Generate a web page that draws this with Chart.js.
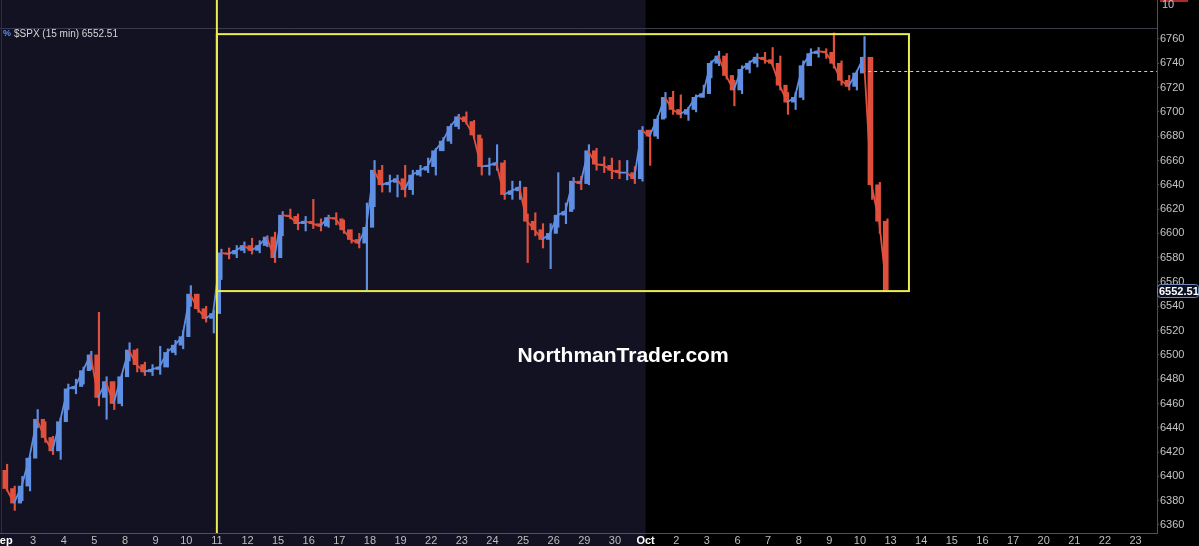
<!DOCTYPE html>
<html>
<head>
<meta charset="utf-8">
<script src="https://cdn.jsdelivr.net/npm/chart.js@4.4.1/dist/chart.umd.min.js"></script>
<style>
  html, body { margin: 0; padding: 0; background: #000; }
  #wrap { width: 1199px; height: 546px; position: relative; }
</style>
</head>
<body>
<div id="wrap"><canvas id="spx"></canvas></div>
<script>
// trading day labels on the x axis (Sep 2 .. Oct 23)
const dayLabels = ["Sep","3","4","5","8","9","10","11","12","15","16","17","18","19","22","23","24","25","26","29","30",
                   "Oct","2","3","6","7","8","9","10","13","14","15","16","17","20","21","22","23"];
const monthLabels = ["Sep", "Oct"];
const yTicks = [6360,6380,6400,6420,6440,6460,6480,6500,6520,6540,6560,6580,6600,6620,6640,6660,6680,6700,6720,6740,6760];

// 4 slots per trading day
const slotsPerDay = 4;
const firstOpen = 6405;
const closes = [
  6390, 6378, 6392, 6415,   // Sep 2
  6447, 6432, 6421, 6445,   // Sep 3
  6472, 6474, 6487, 6500,   // Sep 4
  6465, 6478, 6460, 6482,   // Sep 5
  6504, 6492, 6486, 6488,   // Sep 8
  6490, 6502, 6508, 6515,   // Sep 9
  6550, 6538, 6530, 6534,   // Sep 10
  6584, 6583, 6586, 6590,   // Sep 11
  6586, 6590, 6597, 6580,   // Sep 12
  6615, 6614, 6608, 6610,   // Sep 15
  6608, 6606, 6613, 6612,   // Sep 16
  6603, 6595, 6592, 6605,   // Sep 17
  6652, 6640, 6642, 6645,   // Sep 18
  6636, 6648, 6652, 6655,   // Sep 19
  6668, 6676, 6688, 6696,   // Sep 22
  6692, 6681, 6655, 6656,   // Sep 23
  6658, 6632, 6635, 6638,   // Sep 24
  6610, 6603, 6595, 6600,   // Sep 25
  6615, 6618, 6643, 6641,   // Sep 26
  6668, 6657, 6656, 6652,   // Sep 29
  6650, 6650, 6645, 6685,   // Sep 30
  6680, 6694, 6712, 6702,   // Oct 1
  6698, 6702, 6712, 6715,   // Oct 2
  6740, 6746, 6730, 6718,   // Oct 3
  6735, 6740, 6745, 6743,   // Oct 6
  6740, 6722, 6708, 6712,   // Oct 7
  6738, 6748, 6750, 6749,   // Oct 8
  6740, 6726, 6721, 6732,   // Oct 9
  6745, 6640, 6610, 6552.51 // Oct 10
];
const highs = [
  6410, 6392, 6400, 6417,
  6455, 6445, 6433, 6448,
  6476, 6480, 6490, 6503,
  6535, 6482, 6478, 6484,
  6510, 6505, 6494, 6492,
  6507, 6505, 6512, 6520,
  6557, 6550, 6540, 6537,
  6587, 6588, 6590, 6593,
  6596, 6594, 6598, 6601,
  6618, 6620, 6616, 6614,
  6628, 6612, 6615, 6617,
  6611, 6603, 6600, 6625,
  6660, 6656, 6648, 6648,
  6656, 6652, 6656, 6662,
  6670, 6679, 6690, 6698,
  6700, 6693, 6678, 6662,
  6673, 6660, 6643, 6643,
  6616, 6617, 6608, 6608,
  6650, 6625, 6646, 6647,
  6673, 6670, 6663, 6662,
  6660, 6660, 6655, 6688,
  6685, 6697, 6716, 6717,
  6714, 6704, 6714, 6722,
  6742, 6750, 6748, 6726,
  6738, 6742, 6748, 6749,
  6753, 6746, 6716, 6716,
  6742, 6752, 6753, 6752,
  6765, 6742, 6730, 6734,
  6762, 6745, 6642, 6612
];
const lows = [
  6388, 6372, 6380, 6388,
  6440, 6428, 6418, 6414,
  6455, 6468, 6476, 6488,
  6458, 6447, 6455, 6458,
  6495, 6486, 6483, 6483,
  6484, 6490, 6500, 6505,
  6540, 6535, 6527, 6518,
  6562, 6579, 6580, 6584,
  6583, 6584, 6589, 6576,
  6598, 6612, 6603, 6602,
  6604, 6602, 6605, 6607,
  6600, 6592, 6588, 6553,
  6622, 6634, 6634, 6630,
  6630, 6632, 6647, 6650,
  6648, 6668, 6674, 6686,
  6690, 6678, 6648, 6648,
  6652, 6628, 6628, 6628,
  6576, 6598, 6588, 6571,
  6605, 6608, 6620, 6636,
  6640, 6652, 6650, 6645,
  6645, 6644, 6641, 6643,
  6656, 6678, 6695, 6698,
  6695, 6693, 6700, 6712,
  6728, 6738, 6727, 6705,
  6715, 6732, 6737, 6740,
  6738, 6718, 6698, 6702,
  6710, 6738, 6745, 6744,
  6736, 6722, 6718, 6718,
  6733, 6628, 6600, 6552
];

// overlay levels (data units)
const lastPrice = 6552.51;
const boxStartDay = 7;      // Sep 11
const boxEndDay = 29.6;
const boxHigh = 6764;
const boxLow = 6552.51;
const refLevel = 6734;
const refStartDay = 28.27;
const octStartDay = 21;

const xMin = -0.082, xMax = 37.70;
const yMin = 6353.4, yMax = 6769.05;

const BLUE = '#5f8fe2';
const RED = '#e0503c';

Chart.defaults.font.family = "'Liberation Sans', Arial, sans-serif";

const xPos = closes.map((_, i) => Math.floor(i / slotsPerDay) + ((i % slotsPerDay) + 0.5) / slotsPerDay);
const opens = closes.map((c, i) => i === 0 ? firstOpen : closes[i - 1]);
const barColors = closes.map((c, i) => c >= opens[i] ? BLUE : RED);

function isMonth(c) {
  return !!(c && c.tick) && monthLabels.includes(dayLabels[c.tick.value]);
}

// background bands + top panel
const bgPlugin = {
  id: 'bg',
  beforeDraw(chart) {
    const { ctx, chartArea, scales: { x } } = chart;
    ctx.save();
    ctx.fillStyle = '#000';
    ctx.fillRect(0, 0, chart.width, chart.height);
    ctx.fillStyle = '#131222';
    ctx.fillRect(0, 0, x.getPixelForValue(octStartDay), chart.height);
    // panel separator
    ctx.strokeStyle = '#3a3a4c';
    ctx.lineWidth = 1;
    ctx.beginPath();
    ctx.moveTo(0, chartArea.top + 0.5);
    ctx.lineTo(chartArea.right, chartArea.top + 0.5);
    ctx.stroke();
    ctx.strokeStyle = '#24304a';
    ctx.beginPath();
    ctx.moveTo(1.5, 0);
    ctx.lineTo(1.5, chartArea.bottom);
    ctx.stroke();
    // axis line through the top panel
    ctx.strokeStyle = '#4a5068';
    ctx.beginPath();
    ctx.moveTo(chartArea.right + 0.5, 0);
    ctx.lineTo(chartArea.right + 0.5, chartArea.top);
    ctx.stroke();
    ctx.restore();
  }
};

const overlayPlugin = {
  id: 'overlay',
  afterDatasetsDraw(chart) {
    const { ctx, chartArea, scales: { x, y } } = chart;
    ctx.save();
    // dashed reference level
    ctx.strokeStyle = '#d0d0d0';
    ctx.lineWidth = 1;
    ctx.setLineDash([3, 3]);
    const ry = Math.round(y.getPixelForValue(refLevel)) + 0.5;
    ctx.beginPath();
    ctx.moveTo(x.getPixelForValue(refStartDay), ry);
    ctx.lineTo(chartArea.right, ry);
    ctx.stroke();
    ctx.setLineDash([]);
    // yellow range box
    const bx0 = x.getPixelForValue(boxStartDay);
    const bx1 = x.getPixelForValue(boxEndDay);
    const by0 = y.getPixelForValue(boxHigh);
    const by1 = y.getPixelForValue(boxLow);
    ctx.strokeStyle = '#ecec4e';
    ctx.lineWidth = 2;
    ctx.strokeRect(bx0, by0, bx1 - bx0, by1 - by0);
    ctx.beginPath();
    ctx.moveTo(bx0, 0);
    ctx.lineTo(bx0, chartArea.bottom);
    ctx.stroke();
    ctx.restore();
  },
  afterDraw(chart) {
    const { ctx, chartArea, scales: { y } } = chart;
    ctx.save();
    // title
    ctx.textBaseline = 'middle';
    ctx.font = "bold 9px 'Liberation Sans', Arial, sans-serif";
    ctx.fillStyle = '#5a8ee8';
    ctx.fillText('%', 3, chartArea.top + 6);
    ctx.font = "10px 'Liberation Sans', Arial, sans-serif";
    ctx.fillStyle = '#d6d6d6';
    ctx.fillText('$SPX (15 min) ' + lastPrice.toFixed(2), 14, chartArea.top + 6);
    // top panel value
    ctx.fillStyle = '#b02828';
    ctx.fillRect(chartArea.right + 3, 0, 28, 2);
    ctx.fillStyle = '#c4c4c4';
    ctx.font = "11px 'Liberation Sans', Arial, sans-serif";
    ctx.fillText('10', chartArea.right + 5, 5);
    // last price tag
    const py = Math.round(y.getPixelForValue(lastPrice));
    ctx.fillStyle = '#0b1020';
    ctx.strokeStyle = '#7088b8';
    ctx.lineWidth = 1;
    ctx.beginPath();
    ctx.roundRect(chartArea.right + 0.5, py - 6.5, 41, 13, 3);
    ctx.fill();
    ctx.stroke();
    ctx.fillStyle = '#ffffff';
    ctx.font = "bold 11px 'Liberation Sans', Arial, sans-serif";
    ctx.fillText(lastPrice.toFixed(2), chartArea.right + 2, py + 0.5);
    // watermark
    ctx.font = "bold 21px 'Liberation Sans', Arial, sans-serif";
    ctx.textAlign = 'center';
    ctx.fillStyle = '#ffffff';
    ctx.fillText('NorthmanTrader.com', 623, 356);
    ctx.restore();
  }
};

new Chart(document.getElementById('spx'), {
  type: 'line',
  data: {
    datasets: [
      {
        // high-low wicks
        type: 'bar',
        data: xPos.map((xv, i) => ({ x: xv, y: [lows[i], highs[i]] })),
        backgroundColor: barColors,
        borderWidth: 0,
        barThickness: 1.5,
        order: 3
      },
      {
        // open-close bodies
        type: 'bar',
        data: xPos.map((xv, i) => ({ x: xv, y: [opens[i], closes[i]] })),
        backgroundColor: barColors,
        borderWidth: 0,
        barThickness: 3.5,
        order: 2
      },
      {
        type: 'line',
        data: xPos.map((xv, i) => ({ x: xv, y: closes[i] })),
        borderWidth: 1.8,
        pointRadius: 0,
        tension: 0,
        segment: {
          borderColor: c => c.p1.parsed.y >= c.p0.parsed.y ? BLUE : RED
        },
        borderColor: BLUE,
        order: 1
      }
    ]
  },
  options: {
    responsive: true,
    maintainAspectRatio: false,
    animation: false,
    layout: { padding: { top: 28, left: 0, right: 0, bottom: 0 } },
    plugins: { legend: { display: false }, tooltip: { enabled: false } },
    scales: {
      x: {
        type: 'linear',
        min: xMin,
        max: xMax,
        offset: false,
        afterBuildTicks: s => { s.ticks = dayLabels.map((_, i) => ({ value: i })); },
        afterFit: s => { s.height = 13; s.paddingLeft = 0; s.paddingRight = 0; },
        grid: { drawOnChartArea: false, drawTicks: false, color: '#4a5068' },
        border: { display: true, color: '#4a5068' },
        ticks: {
          autoSkip: false,
          maxRotation: 0,
          padding: 1,
          color: c => isMonth(c) ? '#ffffff' : '#bdbdbd',
          font: c => ({ size: 11, weight: isMonth(c) ? 'bold' : 'normal' }),
          callback: v => dayLabels[v]
        }
      },
      y: {
        type: 'linear',
        position: 'right',
        min: yMin,
        max: yMax,
        afterBuildTicks: s => { s.ticks = yTicks.map(v => ({ value: v })); },
        afterFit: s => { s.width = 42; s.paddingTop = 0; s.paddingBottom = 0; },
        grid: { drawOnChartArea: false, drawTicks: true, tickLength: 2, color: '#4a5068' },
        border: { display: true, color: '#4a5068' },
        ticks: { color: '#c4c4c4', font: { size: 11 }, padding: 1, callback: v => String(v) }
      }
    }
  },
  plugins: [bgPlugin, overlayPlugin]
});
</script>
</body>
</html>
